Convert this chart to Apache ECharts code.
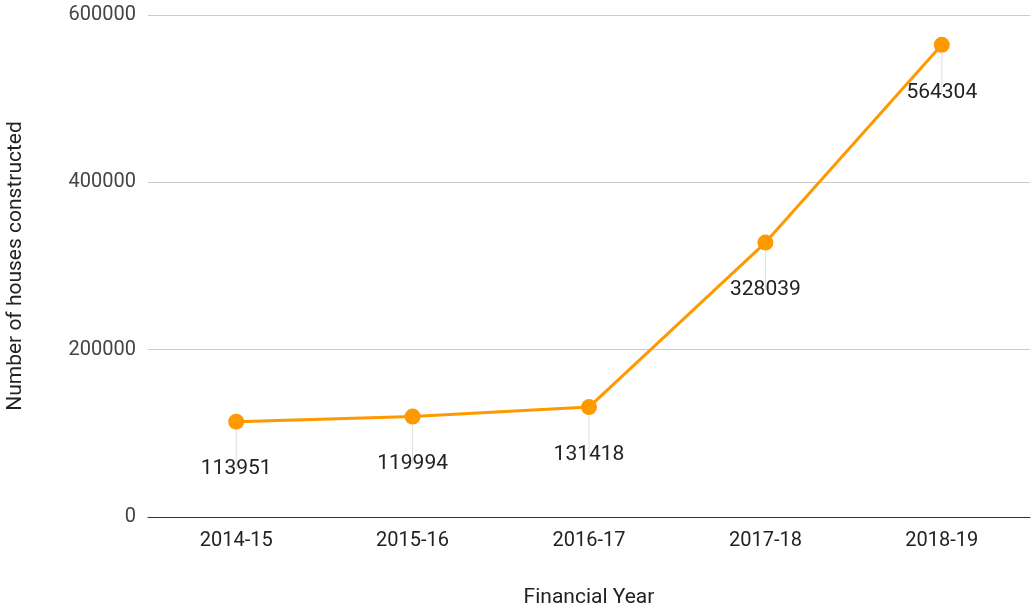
<!DOCTYPE html>
<html>
<head>
<meta charset="utf-8">
<script src="https://cdn.jsdelivr.net/npm/echarts@6/dist/echarts.min.js"></script>
<style>
html,body{margin:0;padding:0;background:#fff;}
#chart{width:1032px;height:610px;}
</style>
</head>
<body>
<div id="chart"></div>
<script>
// data
var years = ['2014-15', '2015-16', '2016-17', '2017-18', '2018-19'];
var houses = [113951, 119994, 131418, 328039, 564304];
var yTicks = [0, 200000, 400000, 600000];

var chart = echarts.init(document.getElementById('chart'));
var option = {
	animation: false,
	textStyle: { fontFamily: 'Roboto' },
	grid: { left: 148, right: 2, top: 15, bottom: 93, outerBoundsMode: 'none' },
	xAxis: {
		type: 'category',
		data: years,
		boundaryGap: true,
		name: 'Financial Year',
		nameLocation: 'middle',
		nameGap: 70,
		nameTextStyle: { fontSize: 21, color: '#222' },
		axisLine: { lineStyle: { color: '#333', width: 1 } },
		axisTick: { show: false },
		axisLabel: { fontSize: 20, color: '#222', margin: 14 }
	},
	yAxis: {
		type: 'value',
		min: yTicks[0],
		max: yTicks[yTicks.length - 1],
		interval: 200000,
		name: 'Number of houses constructed',
		nameLocation: 'middle',
		nameGap: 122,
		nameTextStyle: { fontSize: 21, color: '#222' },
		axisLine: { show: false },
		axisTick: { show: false },
		axisLabel: { fontSize: 20, color: '#444', margin: 12, formatter: function (v) { return String(v); } },
		splitLine: { lineStyle: { color: '#ccc' } }
	},
	series: [{
		type: 'line',
		data: houses,
		symbol: 'circle',
		symbolSize: 16,
		itemStyle: { color: '#ff9900' },
		lineStyle: { color: '#ff9900', width: 3 },
		label: {
			show: true,
			position: 'bottom',
			distance: 29,
			fontSize: 21,
			color: '#222'
		},
		labelLine: { show: true, lineStyle: { color: '#ddd', width: 1 } }
	}]
};
chart.setOption(option);
</script>
</body>
</html>
